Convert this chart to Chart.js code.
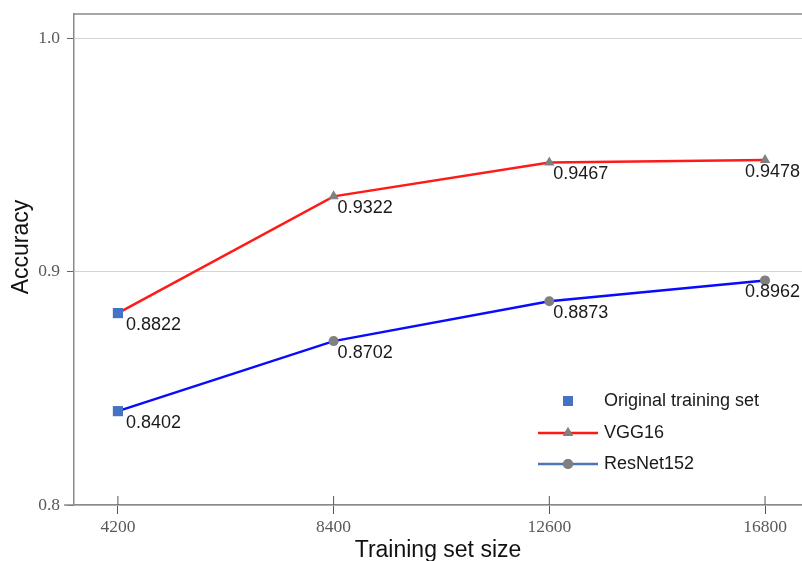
<!DOCTYPE html>
<html>
<head>
  <title>Accuracy vs training set size</title>
  <script src="https://cdn.jsdelivr.net/npm/chart.js"></script>
  <style>
    body { margin: 0; background: #fff; }
    #wrap { width: 802px; height: 561px; }
  </style>
</head>
<body>
  <div id="wrap"><canvas id="accChart" width="802" height="561"></canvas></div>
  <script>
    const sizes = [4200, 8400, 12600, 16800];
    const vgg16 = [0.8822, 0.9322, 0.9467, 0.9478];
    const resnet152 = [0.8402, 0.8702, 0.8873, 0.8962];
    const originalX = [4200, 4200];
    const originalY = [0.8822, 0.8402];
    const yTicks = [0.8, 0.9, 1.0];

    const pts = (xs, ys) => xs.map((x, i) => ({ x: x, y: ys[i] }));
    const axisGray = '#8a8a8a';
    const sans = "'Liberation Sans', Arial, sans-serif";
    const serif = "'Liberation Serif', 'Times New Roman', serif";

    // value labels, y title, axis frame bits and the legend
    const extras = {
      id: 'extras',
      afterDatasetsDraw(chart) {
        const ctx = chart.ctx;
        const area = chart.chartArea;
        const x = chart.scales.x;
        ctx.save();
        // top frame + axis line stub on the left
        ctx.strokeStyle = axisGray;
        ctx.lineWidth = 1.5;
        ctx.beginPath();
        ctx.moveTo(area.left, area.top);
        ctx.lineTo(area.right, area.top);
        ctx.moveTo(area.left - 10, area.bottom);
        ctx.lineTo(area.left, area.bottom);
        ctx.stroke();
        // inner part of x tick marks
        ctx.lineWidth = 1;
        ctx.strokeStyle = '#555';
        sizes.forEach(v => {
          const px = x.getPixelForValue(v);
          ctx.beginPath();
          ctx.moveTo(px, area.bottom);
          ctx.lineTo(px, area.bottom - 9);
          ctx.stroke();
        });
        // y axis title
        ctx.save();
        ctx.translate(22, 247);
        ctx.rotate(-Math.PI / 2);
        ctx.font = '23px ' + sans;
        ctx.fillStyle = '#111';
        ctx.textAlign = 'center';
        ctx.textBaseline = 'middle';
        ctx.fillText('Accuracy', 0, 0);
        ctx.restore();
        // value labels
        ctx.fillStyle = '#1a1a1a';
        ctx.font = '18px ' + sans;
        ctx.textBaseline = 'top';
        ctx.textAlign = 'left';
        [0, 1].forEach(di => {
          const ds = chart.data.datasets[di];
          chart.getDatasetMeta(di).data.forEach((el, i) => {
            const txt = ds.data[i].y.toFixed(4);
            const w = ctx.measureText(txt).width;
            let tx = el.x + (i === 0 ? 8 : 4);
            tx = Math.min(tx, chart.width - 2 - w);
            ctx.fillText(txt, tx, el.y + 3);
          });
        });
        // legend
        const lx = 538, tx = 604;
        const rows = [401, 433, 464];
        ctx.font = '18px ' + sans;
        ctx.textBaseline = 'middle';
        ctx.fillStyle = '#1a1a1a';
        ctx.fillText('Original training set', tx, rows[0]);
        ctx.fillText('VGG16', tx, rows[1]);
        ctx.fillText('ResNet152', tx, rows[2]);
        ctx.fillStyle = '#4472c4';
        ctx.fillRect(lx + 25, rows[0] - 5, 10, 10);
        ctx.lineWidth = 2.5;
        ctx.strokeStyle = '#ff1a1a';
        ctx.beginPath(); ctx.moveTo(lx, rows[1]); ctx.lineTo(lx + 60, rows[1]); ctx.stroke();
        ctx.strokeStyle = '#4a78b4';
        ctx.beginPath(); ctx.moveTo(lx, rows[2]); ctx.lineTo(lx + 60, rows[2]); ctx.stroke();
        ctx.fillStyle = '#808080';
        ctx.strokeStyle = '#808080';
        ctx.lineWidth = 0;
        Chart.helpers.drawPoint(ctx, { pointStyle: 'triangle', radius: 6, rotation: 0, borderWidth: 0 }, lx + 30, rows[1]);
        ctx.fill();
        Chart.helpers.drawPoint(ctx, { pointStyle: 'circle', radius: 5, rotation: 0, borderWidth: 0 }, lx + 30, rows[2]);
        ctx.fill();
        ctx.restore();
      }
    };

    new Chart(document.getElementById('accChart'), {
      type: 'line',
      data: {
        datasets: [
          {
            label: 'VGG16',
            data: pts(sizes, vgg16),
            borderColor: '#ff1a1a',
            borderWidth: 2.5,
            pointStyle: 'triangle',
            pointRadius: [0, 6, 6, 6],
            pointBackgroundColor: '#808080',
            pointBorderColor: '#808080',
            pointBorderWidth: 0,
            fill: false,
            order: 2
          },
          {
            label: 'ResNet152',
            data: pts(sizes, resnet152),
            borderColor: '#0a0aff',
            borderWidth: 2.5,
            pointStyle: 'circle',
            pointRadius: [0, 5, 5, 5],
            pointBackgroundColor: '#808080',
            pointBorderColor: '#808080',
            pointBorderWidth: 0,
            fill: false,
            order: 2
          },
          {
            label: 'Original training set',
            data: pts(originalX, originalY),
            showLine: false,
            pointStyle: 'rect',
            pointRadius: 7.2,
            pointBackgroundColor: '#4472c4',
            pointBorderColor: '#4472c4',
            pointBorderWidth: 0,
            order: 1
          }
        ]
      },
      options: {
        responsive: false,
        animation: false,
        devicePixelRatio: 1,
        layout: { autoPadding: false, padding: { top: 14, right: 0, left: 0, bottom: 0 } },
        plugins: { legend: { display: false }, tooltip: { enabled: false } },
        scales: {
          x: {
            type: 'linear',
            min: 3345,
            max: 17520,
            afterFit: s => { s.height = 56; s.paddingRight = 0; s.paddingLeft = 0; },
            afterBuildTicks: s => { s.ticks = sizes.map(v => ({ value: v })); },
            grid: { drawOnChartArea: false, drawTicks: true, tickLength: 9, tickColor: '#555' },
            border: { color: axisGray, width: 1.5 },
            ticks: { font: { family: serif, size: 17.5 }, color: '#5a5a5a', padding: 3, callback: v => String(v) },
            title: { display: true, text: 'Training set size', font: { family: sans, size: 23 }, color: '#111', padding: { top: 0, bottom: -3 } }
          },
          y: {
            min: 0.8,
            max: 1.0103,
            afterFit: s => { s.width = 74; s.paddingTop = 0; s.paddingBottom = 0; },
            afterBuildTicks: s => { s.ticks = yTicks.map(v => ({ value: v })); },
            grid: { color: '#d4d4d4', lineWidth: 1, tickLength: 7, tickColor: '#666' },
            border: { color: axisGray, width: 1.5 },
            ticks: { font: { family: serif, size: 17.5 }, color: '#5a5a5a', padding: 7, callback: v => v.toFixed(1) },
            title: { display: false }
          }
        }
      },
      plugins: [extras]
    });
  </script>
</body>
</html>
